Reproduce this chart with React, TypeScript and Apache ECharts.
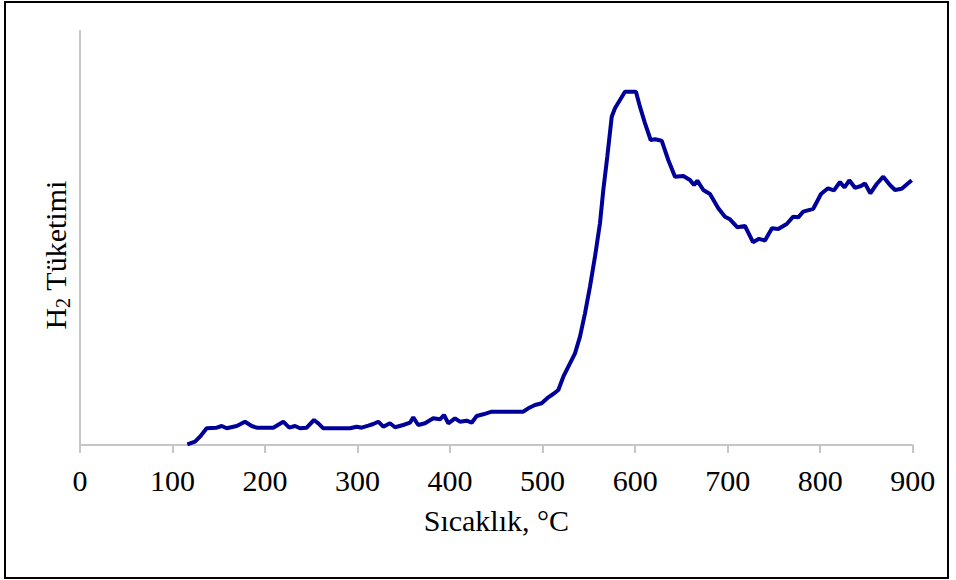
import React, { useEffect, useRef } from "react";
import * as echarts from "echarts";

// Temperature (°C)
const temperatures: number[] = [
  116.0, 124.3, 129.7, 136.9, 147.7, 153.2, 158.6, 169.4, 178.3, 185.6,
  191.0, 208.9, 219.7, 226.2, 232.4, 237.8, 245.0, 252.9, 257.6, 263.0,
  291.8, 299.1, 304.5, 311.6, 317.0, 322.4, 327.8, 335.0, 340.5, 349.4,
  356.7, 360.2, 365.6, 372.9, 381.8, 389.1, 393.4, 398.1, 405.3, 410.7,
  417.9, 423.3, 428.8, 435.9, 445.0, 479.1, 484.5, 491.8, 499.0, 506.1,
  511.5, 517.0, 522.4, 529.6, 535.0, 540.4, 545.8, 551.2, 556.6, 562.0,
  565.6, 569.9, 574.7, 578.2, 583.6, 589.0, 600.9, 605.2, 610.7, 616.8,
  621.5, 628.7, 635.8, 643.1, 652.1, 659.3, 663.6, 667.2, 673.7, 680.9,
  689.9, 697.1, 702.5, 710.6, 718.7, 727.4, 733.9, 740.3, 747.9, 754.7,
  763.8, 770.9, 776.3, 781.7, 792.5, 800.9, 808.4, 814.9, 821.4, 826.3,
  831.5, 837.6, 844.1, 848.4, 854.2, 861.1, 868.2, 875.4, 880.9, 888.1,
  893.5, 898.9,
];

// H2 consumption (arbitrary units)
const consumption: number[] = [
  0.7, 3.3, 8.3, 16.7, 17.3, 19, 16.7, 19, 23.3, 19,
  17.3, 17.3, 23.3, 17.3, 19, 16.7, 17.3, 25, 21.7, 16.7,
  16.7, 18.3, 17.3, 19.3, 21, 23.3, 18.3, 21.7, 17.7, 20,
  22.3, 27.7, 20, 21.7, 26.7, 25.7, 30, 21.7, 26.7, 23.3,
  24.3, 22.3, 29, 30.7, 33.3, 33.3, 36.7, 40, 41.7, 47.7,
  51, 55, 68.3, 81.7, 91.7, 108.3, 131.7, 158.3, 188.3, 221.7,
  255, 288.3, 328.3, 336.7, 345, 353.3, 353.3, 338.3, 321.7, 305,
  305.7, 304.3, 285, 268.3, 269, 265, 260, 264.3, 255, 251,
  236.7, 228.3, 225.7, 217.7, 219, 202.8, 206.2, 204.5, 216.7, 216,
  221, 228.3, 227.7, 233.3, 236.2, 251, 256.7, 254.7, 263, 257.5,
  264.7, 257.2, 259, 261.5, 251.7, 261, 268.3, 260, 255, 256.2,
  260.5, 264.7,
];

const xTicks = { min: 0, max: 900, interval: 100 };
const xAxisTitle = "Sıcaklık, °C";
const yAxisTitle = "{a|H}{b|2}{a| Tüketimi}";

const FONT = "'Liberation Serif', 'Times New Roman', serif";

export default function App() {
  const ref = useRef<HTMLDivElement>(null);

  useEffect(() => {
    if (!ref.current) return;
    const chart = echarts.init(ref.current, null, { renderer: "svg" });
    const data = temperatures.map((t, i) => [t, consumption[i]]);
    chart.setOption({
      animation: false,
      backgroundColor: "#ffffff",
      grid: { left: 80, right: 43.3, top: 31, bottom: 135, containLabel: false },
      xAxis: {
        type: "value",
        min: xTicks.min,
        max: xTicks.max,
        interval: xTicks.interval,
        name: xAxisTitle,
        nameLocation: "middle",
        nameGap: 60,
        nameTextStyle: { fontFamily: FONT, fontSize: 30, color: "#000" },
        axisLine: { show: true, lineStyle: { color: "#c6c6c6", width: 2 } },
        axisTick: { show: true, length: 8, lineStyle: { color: "#c6c6c6", width: 2 } },
        axisLabel: { fontFamily: FONT, fontSize: 30, color: "#000", margin: 20 },
        splitLine: { show: false },
      },
      yAxis: {
        type: "value",
        min: 0,
        max: 414,
        axisLine: { show: true, lineStyle: { color: "#c6c6c6", width: 2 } },
        axisTick: { show: false },
        axisLabel: { show: false },
        splitLine: { show: false },
      },
      graphic: [
        {
          type: "rect",
          shape: { x: 5, y: 2, width: 943, height: 576 },
          style: { fill: "none", stroke: "#000", lineWidth: 2 },
          silent: true,
        },
        {
          type: "text",
          x: 55,
          y: 255,
          rotation: Math.PI / 2,
          style: {
            text: yAxisTitle,
            align: "center",
            verticalAlign: "middle",
            rich: {
              a: { fontFamily: FONT, fontSize: 30, fill: "#000", lineHeight: 32, verticalAlign: "middle" },
              b: { fontFamily: FONT, fontSize: 20, fill: "#000", lineHeight: 36, verticalAlign: "bottom" },
            },
          },
        },
      ],
      series: [
        {
          type: "line",
          data,
          showSymbol: false,
          symbol: "none",
          smooth: false,
          lineStyle: { color: "#000099", width: 4 },
        },
      ],
    });
    return () => chart.dispose();
  }, []);

  return (
    <div
      ref={ref}
      style={{ position: "fixed", left: 0, top: 0, width: 956, height: 580, background: "#fff" }}
    />
  );
}
